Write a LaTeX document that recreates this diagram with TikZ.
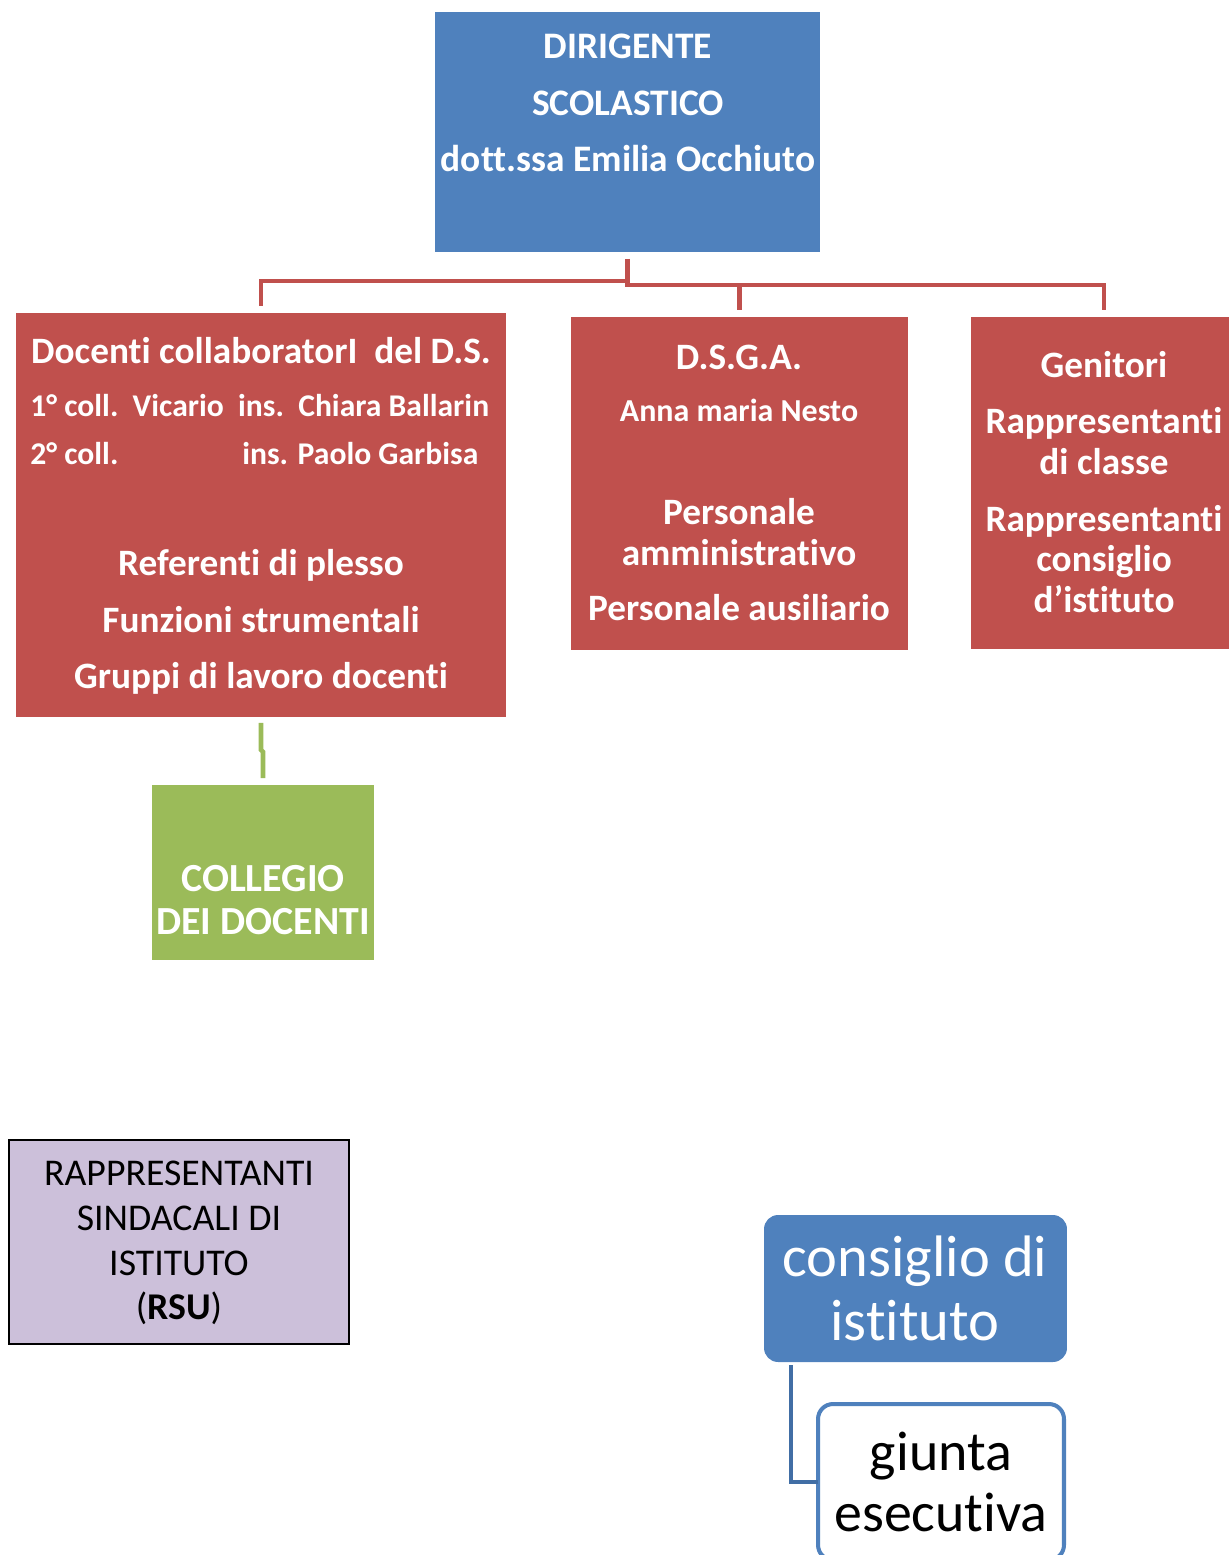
\documentclass[tikz,border=0pt]{standalone}
\usepackage{fontspec}
\setmainfont{Carlito}[Ligatures=NoCommon]
\usetikzlibrary{positioning,calc}

\definecolor{dsblue}{RGB}{79,129,189}
\definecolor{dsred}{RGB}{192,80,77}
\definecolor{dsgreen}{RGB}{155,187,89}
\definecolor{dslilac}{RGB}{204,192,218}
\definecolor{dslink}{RGB}{65,110,165}

\newcommand{\fsz}[2]{\fontsize{#1}{#2}\selectfont}

\begin{document}
\begin{tikzpicture}[x=0.02cm,y=-0.02cm,
	box/.style={rectangle, inner sep=0pt, outer sep=0pt},
	bluebox/.style={box, fill=dsblue},
	redbox/.style={box, fill=dsred},
	greenbox/.style={box, fill=dsgreen},
	lilacbox/.style={box, fill=dslilac, draw=black, line width=1.1pt},
	txt/.style={inner sep=0pt, align=center, text=white, font=\bfseries},
	redlink/.style={draw=dsred, line width=2.3pt},
	greenlink/.style={draw=dsgreen, line width=2.6pt},
	bluelink/.style={draw=dslink, line width=2.4pt}
]
	\useasboundingbox (0,0) rectangle (1229,1555);
	%% boxes
	\node[bluebox, minimum width=7.7cm, minimum height=4.8cm] (dir) at (627.5,132) {};
	\node[redbox, minimum width=9.8cm, minimum height=8.08cm] (doc) at (261,515) {};
	\node[redbox, minimum width=6.74cm, minimum height=6.66cm] (dsga) at (739.5,483.5) {};
	\node[redbox, minimum width=5.32cm, minimum height=6.64cm] (gen) at (1104,483) {};
	\node[greenbox, minimum width=4.44cm, minimum height=3.5cm] (col) at (263,872.5) {};
	\node[lilacbox, minimum width=6.8cm, minimum height=4.08cm] (rsu) at (179,1242) {};
	\node[bluebox, rounded corners=0.28cm, minimum width=6.06cm, minimum height=2.94cm] (cdi) at (915.5,1288.5) {};
	\node[box, fill=white, draw=dsblue, line width=2.3pt, rounded corners=0.3cm,
		minimum width=4.92cm, minimum height=3.12cm] (giu) at (941,1482) {};
	%% testi
	\node[txt, font=\bfseries\fsz{21.3}{32.3}] (dir-t) at (628,103)
		{DIRIGENTE\\SCOLASTICO\\dott.ssa Emilia Occhiuto};
	\node[txt, font=\bfseries\fsz{21.2}{24}] (doc-t) at (261,351) {Docenti collaboratorI\ \ del D.S.};
	\node[txt, anchor=west, font=\bfseries\fsz{18}{20}] (doc-l1) at (30,406)
		{1° coll.\ \ Vicario\ \ ins.\ \ Chiara Ballarin};
	\node[txt, anchor=west, font=\bfseries\fsz{18}{20}] (doc-l2) at (30,454) {2° coll.};
	\node[txt, anchor=west, font=\bfseries\fsz{18}{20}] (doc-l3) at (242,454) {ins. Paolo Garbisa};
	\node[txt, font=\bfseries\fsz{21.2}{32.3}] (doc-b) at (261,622)
		{Referenti di plesso\\Funzioni strumentali\\Gruppi di lavoro docenti};
	\node[txt, font=\bfseries\fsz{21.2}{24}] (dsga-t) at (739,357) {D.S.G.A.};
	\node[txt, font=\bfseries\fsz{18.2}{20}] (dsga-n) at (739,410) {Anna maria Nesto};
	\node[txt, font=\bfseries\fsz{21.2}{23.2}] (dsga-p) at (739,532) {Personale\\amministrativo};
	\node[txt, font=\bfseries\fsz{21.2}{24}] (dsga-a) at (739,608) {Personale ausiliario};
	\node[txt, font=\bfseries\fsz{21.2}{23.2}] (gen-t) at (1104,482)
		{Genitori\\[9pt]Rappresentanti\\di classe\\[9pt]Rappresentanti\\consiglio\\d’istituto};
	\node[txt, font=\bfseries\fsz{22.7}{24.4}] (col-t) at (263,900) {COLLEGIO\\DEI DOCENTI};
	\node[txt, text=black, font=\fsz{21.5}{25.5}] (rsu-t) at (179,1243)
		{RAPPRESENTANTI\\SINDACALI DI\\ISTITUTO\\(\textbf{RSU})};
	\node[txt, font=\fsz{33.3}{36.3}] (cdi-t) at (915,1288) {consiglio di\\istituto};
	\node[txt, text=black, font=\fsz{31.8}{34.6}] (giu-t) at (941,1482) {giunta\\esecutiva};
	%% collegamenti
	\draw[redlink] ($(dir.south)+(0,7)$) |- ($(doc.north)+(0,-32)$) -- ($(doc.north)+(0,-7)$);
	\draw[redlink] ($(dir.south)+(0,7)$) -- ($(dir.south)+(0,33)$) -| ($(gen.north)+(0,-7)$);
	\draw[redlink] ($(dsga.north)+(0,-32)$) -- ($(dsga.north)+(0,-7)$);
	\draw[greenlink] ($(doc.south)+(0,6)$) -- ++(0,27) -- ++(2,2) -- ($(col.north)+(0,-7)$);
	\draw[bluelink] ($(cdi.south west)+(27,3)$) |- (giu.west);
\end{tikzpicture}
\end{document}
